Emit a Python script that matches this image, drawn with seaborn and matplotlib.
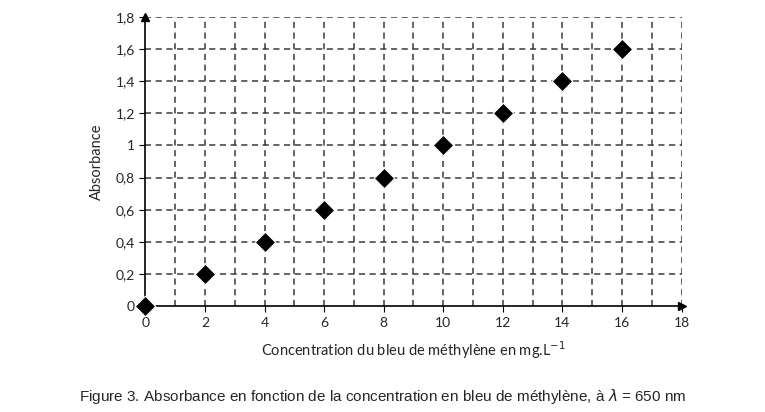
import matplotlib
matplotlib.use("Agg")
import matplotlib.pyplot as plt
import seaborn as sns
import numpy as np
import pandas as pd

conc = [0, 2, 4, 6, 8, 10, 12, 14, 16]
absorb = [0, 0.2, 0.4, 0.6, 0.8, 1.0, 1.2, 1.4, 1.6]
xticks = [0, 2, 4, 6, 8, 10, 12, 14, 16, 18]
yticks = [0, 0.2, 0.4, 0.6, 0.8, 1.0, 1.2, 1.4, 1.6, 1.8]

sns.set_style("white")
plt.rcParams['font.family'] = ['Lato', 'DejaVu Sans']

fig = plt.figure(figsize=(7.65, 4.12), dpi=100)
ax = fig.add_axes([0.19, 0.257, 0.701, 0.702])
df = pd.DataFrame({"c": conc, "a": absorb})
sns.scatterplot(data=df, x="c", y="a", marker="D", s=110, color="black", ax=ax, zorder=5, clip_on=False)

ax.set_xlim(0, 18)
ax.set_ylim(0, 1.8)
ax.set_xticks(xticks)
ax.set_xticklabels([str(v) for v in xticks], fontsize=10)
ax.set_yticks(yticks)
ax.set_yticklabels([f"{v:g}".replace(".", ",") for v in yticks], fontsize=10)
gc = "#3a3a3a"
for v in range(1, 19):
    ax.axvline(v, color=gc, ls=(0, (4, 3)), lw=1.1, zorder=1)
for v in yticks[1:]:
    ax.axhline(v, color=gc, ls=(0, (4, 3)), lw=1.1, zorder=1)
for s in ["top", "right"]:
    ax.spines[s].set_visible(False)
for s in ["left", "bottom"]:
    ax.spines[s].set_color("black")
    ax.spines[s].set_linewidth(1.2)
ax.tick_params(axis="both", length=4, color="black", direction="out", bottom=True, left=True)
ax.plot(1, 0, ">k", transform=ax.transAxes, clip_on=False, ms=6)
ax.plot(0, 1, "^k", transform=ax.transAxes, clip_on=False, ms=6)
ax.set_xlabel("Concentration du bleu de méthylène en mg.L$^{-1}$", fontsize=10.5, labelpad=8)
ax.set_ylabel("Absorbance", fontsize=10.5, labelpad=8)

fig.text(0.5, 0.015, "Figure 3. Absorbance en fonction de la concentration en bleu de méthylène, à $\\lambda$ = 650 nm",
         ha="center", va="bottom", fontsize=11, family=["Liberation Sans", "DejaVu Sans"])
fig.savefig("out.png", dpi=100)
